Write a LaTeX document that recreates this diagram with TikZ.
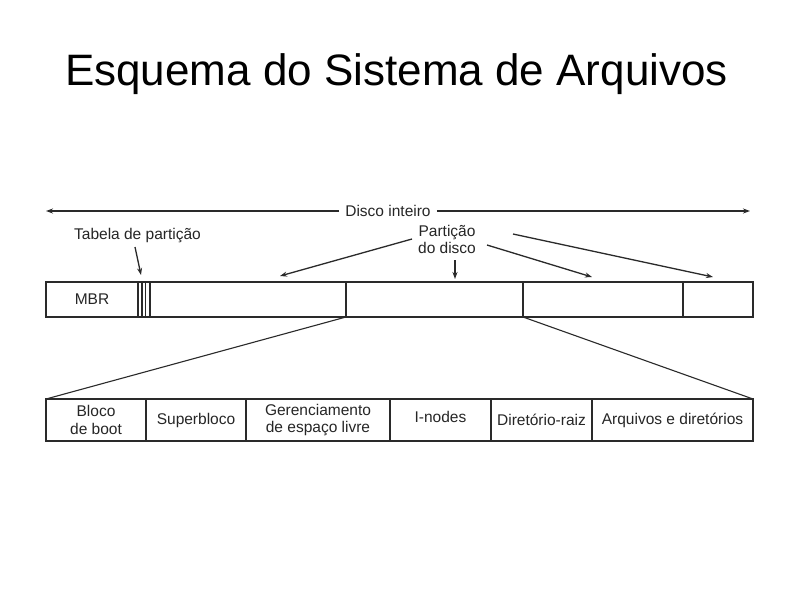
\documentclass[tikz,border=0pt]{standalone}
\usepackage{fontspec}
\setmainfont{Liberation Sans}
\usetikzlibrary{arrows.meta}
\definecolor{ln}{HTML}{2A2A2A}
\tikzset{
  seg/.style={draw=ln, line width=1.3pt, inner sep=0pt, outer sep=0pt, minimum height=#1, align=center, font=\fontsize{15.5}{17.5}\selectfont, text=black!85},
  lbl/.style={inner sep=1pt, align=center, font=\fontsize{15.5}{17}\selectfont, text=black!85},
  arr/.style={draw=ln, line width=1.3pt, -{Stealth[length=7pt,width=5pt]}},
  thin/.style={draw=ln, line width=1.1pt}
}
\begin{document}
\begin{tikzpicture}[x=1pt,y=-1pt]
\useasboundingbox[fill=white] (0,0) rectangle (794,595);
\node[font=\fontsize{44}{50}\selectfont] (title) at (396.5,74) {Esquema do Sistema de Arquivos};
% top bar
\node[seg=35pt, minimum width=92pt] (mbr) at (92,299.5) {MBR};
\node[seg=35pt, minimum width=12pt] (tab) at (144,299.5) {};
\node[seg=35pt, minimum width=196pt] (p1) at (248,299.5) {};
\node[seg=35pt, minimum width=177pt] (p2) at (434.5,299.5) {};
\node[seg=35pt, minimum width=160pt] (p3) at (603,299.5) {};
\node[seg=35pt, minimum width=70pt] (p4) at (718,299.5) {};
\draw[thin] ([xshift=-2pt]tab.north) -- ([xshift=-2pt]tab.south);
\draw[thin] ([xshift=1.5pt]tab.north) -- ([xshift=1.5pt]tab.south);
% bottom bar
\node[seg=42pt, minimum width=100pt] (b1) at (96,420) {Bloco\\de boot};
\node[seg=42pt, minimum width=100pt] (b2) at (196,420) {Superbloco};
\node[seg=42pt, minimum width=144pt] (b3) at (318,420) {Gerenciamento\\de espaço livre};
\node[seg=42pt, minimum width=101pt, text depth=6pt] (b4) at (440.5,420) {I-nodes};
\node[seg=42pt, minimum width=101pt] (b5) at (541.5,420) {Diretório-raiz};
\node[seg=42pt, minimum width=161pt] (b6) at (672.5,420) {Arquivos e diretórios};
% expansion lines
\draw[thin] (p2.south west) -- (b1.north west);
\draw[thin] (p2.south east) -- (b6.north east);
% disco inteiro
\node[lbl, inner xsep=6pt] (disco) at (388,211) {Disco inteiro};
\coordinate (dl) at (46,211);
\coordinate (dr) at (750,211);
\draw[arr] (disco.west) -- (dl);
\draw[arr] (disco.east) -- (dr);
% tabela
\node[lbl] (tabl) at (137.5,236) {Tabela de partição};
\coordinate (tabt) at (141,275);
\draw[arr] (135,247) -- (tabt);
% particao
\node[lbl] (part) at (447,239) {Partição\\do disco};
\coordinate (a1) at (280,276);
\coordinate (a2) at (455,279);
\coordinate (a3) at (592,277);
\coordinate (a4) at (713,277);
\draw[arr] (412,239) -- (a1);
\draw[arr] (455,260) -- (a2);
\draw[arr] (487,245) -- (a3);
\draw[arr] (513,234) -- (a4);
\end{tikzpicture}
\end{document}
